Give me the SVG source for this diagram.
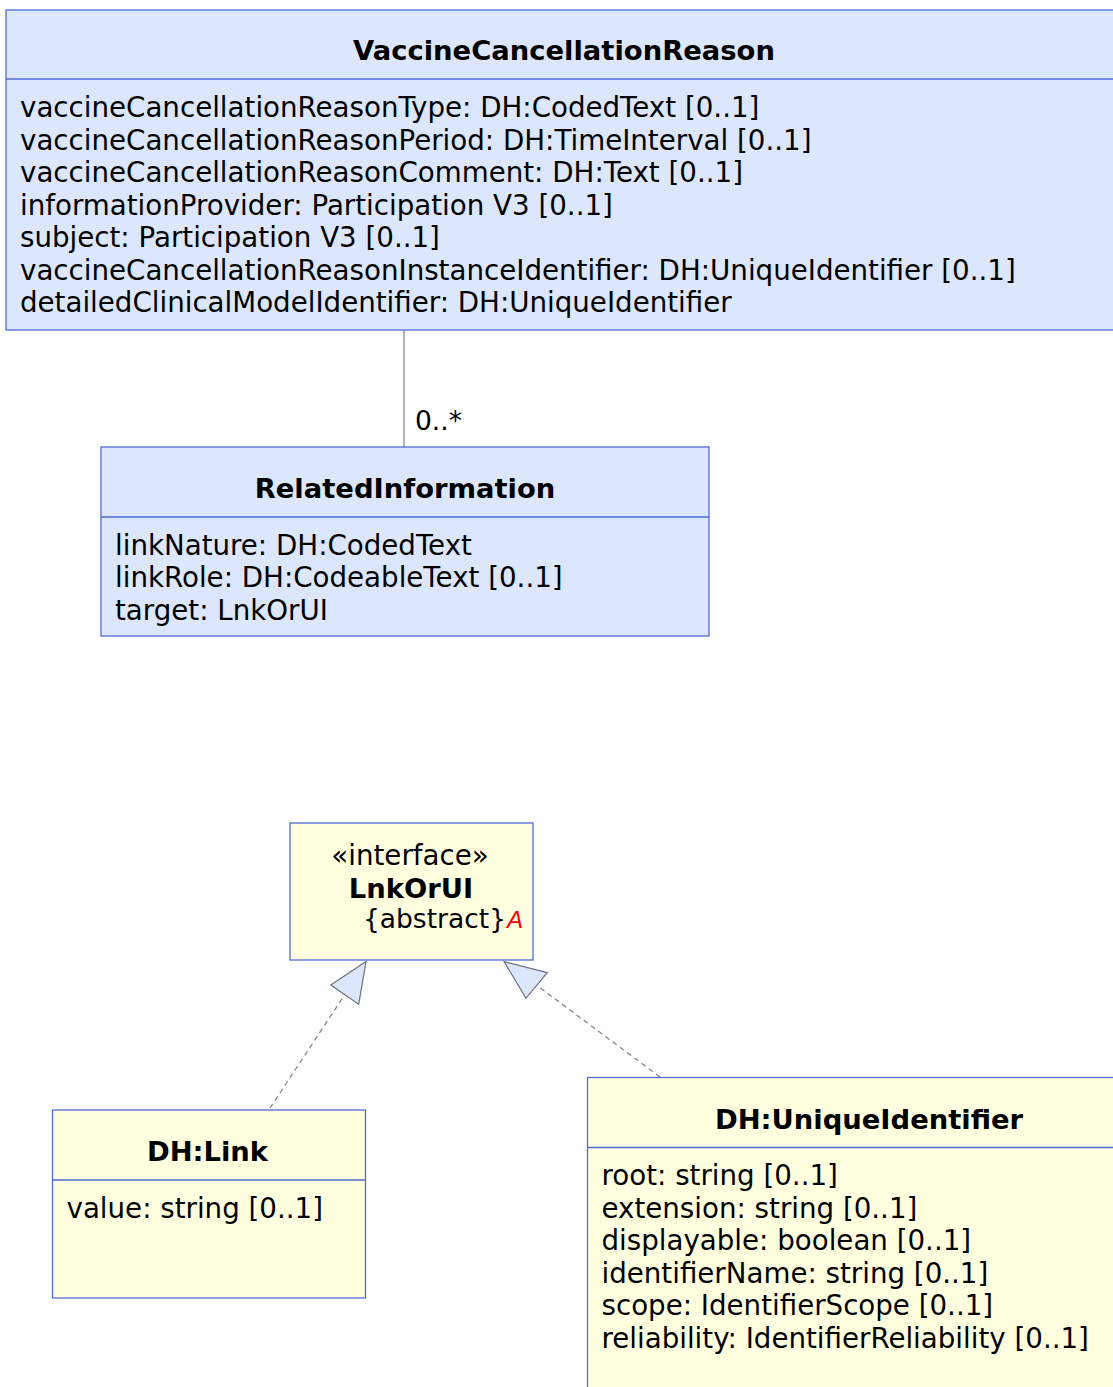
<svg xmlns="http://www.w3.org/2000/svg" width="1113" height="1387" viewBox="0 0 1113 1387">
<style>
text{font-family:"DejaVu Sans","Verdana",sans-serif;font-size:27.7px;fill:#000}
.t{font-weight:bold;text-anchor:middle;font-size:27.4px}
.blue{fill:#dce6fc;stroke:#4f6cd6;stroke-width:1.3}
.yel{fill:#ffffdf;stroke:#4f6cd6;stroke-width:1.3}
.div{stroke:#4f6cd6;stroke-width:1.3}
.conn{stroke:#808080;stroke-width:1.2;fill:none}
.dash{stroke-dasharray:5,4}
.tri{fill:#dce6fc;stroke:#6b7080;stroke-width:1.2}
</style>
<rect width="1113" height="1387" fill="#fff"/>
<g id="connectors">
<line class="conn" x1="404" y1="330" x2="404" y2="447"/>
<text x="415" y="430" style="font-size:26.5px">0..*</text>
<line class="conn dash" x1="270" y1="1108" x2="344.5" y2="995"/>
<polygon class="tri" points="366,961.5 330.7,985 358.7,1004.3"/>
<line class="conn dash" x1="660" y1="1077" x2="537" y2="985.5"/>
<polygon class="tri" points="504,961.5 547.3,972.7 526,998.3"/>
</g>
<g id="VaccineCancellationReason">
<rect class="blue" x="6" y="10" width="1130" height="320"/>
<line class="div" x1="6" y1="79" x2="1136" y2="79"/>
<text class="t" x="564" y="60">VaccineCancellationReason</text>
<text x="20" y="117">vaccineCancellationReasonType: DH:CodedText [0..1]</text>
<text x="20" y="149.5">vaccineCancellationReasonPeriod: DH:TimeInterval [0..1]</text>
<text x="20" y="182">vaccineCancellationReasonComment: DH:Text [0..1]</text>
<text x="20" y="214.5">informationProvider: Participation V3 [0..1]</text>
<text x="20" y="247">subject: Participation V3 [0..1]</text>
<text x="20" y="279.5">vaccineCancellationReasonInstanceIdentifier: DH:UniqueIdentifier [0..1]</text>
<text x="20" y="312">detailedClinicalModelIdentifier: DH:UniqueIdentifier</text>
</g>
<g id="RelatedInformation">
<rect class="blue" x="101" y="447" width="608" height="189"/>
<line class="div" x1="101" y1="517" x2="709" y2="517"/>
<text class="t" x="405" y="497.5">RelatedInformation</text>
<text x="115" y="554.5">linkNature: DH:CodedText</text>
<text x="115" y="587">linkRole: DH:CodeableText [0..1]</text>
<text x="115" y="619.5">target: LnkOrUI</text>
</g>
<g id="LnkOrUI">
<rect class="yel" x="290" y="823" width="243" height="137"/>
<text x="410" y="865" text-anchor="middle">«interface»</text>
<text class="t" x="411" y="898">LnkOrUI</text>
<text x="506" y="928" text-anchor="end" style="font-size:26.5px">{abstract}</text>
<text x="507" y="928" style="fill:#ff0000;font-style:italic;font-family:'Liberation Sans',sans-serif;font-size:24px">A</text>
</g>
<g id="DHLink">
<rect class="yel" x="52.5" y="1110" width="313" height="188"/>
<line class="div" x1="52.5" y1="1180" x2="365.5" y2="1180"/>
<text class="t" x="207.5" y="1161">DH:Link</text>
<text x="66.5" y="1217.5">value: string [0..1]</text>
</g>
<g id="DHUniqueIdentifier">
<rect class="yel" x="587.5" y="1077.5" width="560" height="340"/>
<line class="div" x1="587.5" y1="1147.5" x2="1147" y2="1147.5"/>
<text class="t" x="869" y="1128.5">DH:UniqueIdentifier</text>
<text x="601.5" y="1185">root: string [0..1]</text>
<text x="601.5" y="1217.5">extension: string [0..1]</text>
<text x="601.5" y="1250">displayable: boolean [0..1]</text>
<text x="601.5" y="1282.5">identifierName: string [0..1]</text>
<text x="601.5" y="1315">scope: IdentifierScope [0..1]</text>
<text x="601.5" y="1347.5">reliability: IdentifierReliability [0..1]</text>
</g>
</svg>
